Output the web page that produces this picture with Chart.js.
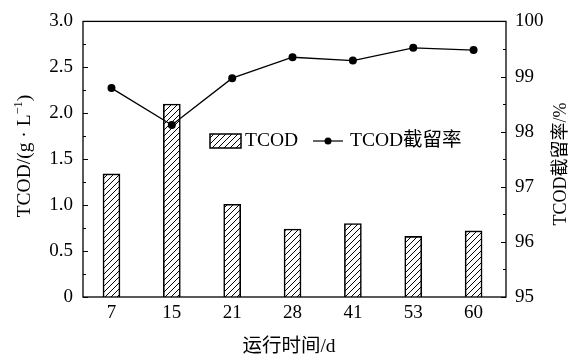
<!DOCTYPE html>
<html>
<head>
<meta charset="utf-8">
<script src="https://cdn.jsdelivr.net/npm/chart.js@4"></script>
<style>
  html, body { margin: 0; padding: 0; background: #fff; }
  #wrap { width: 576px; height: 360px; position: relative; }
</style>
</head>
<body>
<div id="wrap"><canvas id="c"></canvas></div>
<script>
// Operating days and measurements
const days = ['7', '15', '21', '28', '41', '53', '60'];
const tcod = [1.34, 2.10, 1.01, 0.74, 0.80, 0.66, 0.72];          // g/L
const retention = [98.79, 98.12, 98.97, 99.35, 99.29, 99.52, 99.48]; // %

const leftTicks = [0, 0.5, 1.0, 1.5, 2.0, 2.5, 3.0];
const rightTicks = [95, 96, 97, 98, 99, 100];

const SERIF = '"Liberation Serif", "Times New Roman", "Noto Sans CJK SC", serif';

// Diagonal hatch fill for the bars
function makeHatch() {
  const p = document.createElement('canvas');
  p.width = 6; p.height = 6;
  const g = p.getContext('2d');
  g.fillStyle = '#fff';
  g.fillRect(0, 0, 6, 6);
  g.strokeStyle = '#000';
  g.lineWidth = 1;
  g.beginPath();
  g.moveTo(-1, 7); g.lineTo(7, -1);
  g.moveTo(-4, 4); g.lineTo(4, -4);
  g.moveTo(2, 10); g.lineTo(10, 2);
  g.stroke();
  return document.getElementById('c').getContext('2d').createPattern(p, 'repeat');
}
const hatch = makeHatch();

// Frame, inward tick marks, axis titles and legend
const decor = {
  id: 'decor',
  afterDraw(chart) {
    const ctx = chart.ctx;
    const a = chart.chartArea;
    const yL = chart.scales.y, yR = chart.scales.y2;
    ctx.save();
    ctx.strokeStyle = '#000';
    ctx.lineWidth = 1.3;
    ctx.strokeRect(a.left, a.top, a.right - a.left, a.bottom - a.top);

    ctx.lineWidth = 1;
    ctx.beginPath();
    for (let v = 0; v <= 3.0001; v += 0.25) {
      const y = Math.round(yL.getPixelForValue(v)) + 0.5;
      const len = (Math.abs(v / 0.5 - Math.round(v / 0.5)) < 1e-6) ? 5 : 3;
      ctx.moveTo(a.left, y); ctx.lineTo(a.left + len, y);
    }
    for (let v = 95; v <= 100.0001; v += 0.5) {
      const y = Math.round(yR.getPixelForValue(v)) + 0.5;
      const len = (Math.abs(v - Math.round(v)) < 1e-6) ? 5 : 3;
      ctx.moveTo(a.right, y); ctx.lineTo(a.right - len, y);
    }
    ctx.stroke();

    ctx.fillStyle = '#000';
    ctx.textBaseline = 'middle';

    // left axis title, with a raised exponent
    ctx.save();
    ctx.translate(25, 156);
    ctx.rotate(-Math.PI / 2);
    const main = '19.5px ' + SERIF, sup = '12.5px ' + SERIF;
    const p1 = 'TCOD/(g · L', p2 = '−1', p3 = ')';
    ctx.font = main; const w1 = ctx.measureText(p1).width, w3 = ctx.measureText(p3).width;
    ctx.font = sup; const w2 = ctx.measureText(p2).width;
    let x0 = -(w1 + w2 + w3) / 2;
    ctx.textAlign = 'left';
    ctx.font = main; ctx.fillText(p1, x0, 0);
    ctx.font = sup; ctx.fillText(p2, x0 + w1, -6);
    ctx.font = main; ctx.fillText(p3, x0 + w1 + w2, 0);
    ctx.restore();

    ctx.font = '18px ' + SERIF;
    ctx.textAlign = 'center';

    // right axis title
    ctx.save();
    ctx.translate(561, 164);
    ctx.rotate(-Math.PI / 2);
    ctx.fillText('TCOD截留率/%', 0, 0);
    ctx.restore();

    // bottom axis title
    ctx.font = '19.5px ' + SERIF;
    ctx.fillText('运行时间/d', 289, 347);

    // legend
    ctx.font = '19.5px ' + SERIF;
    ctx.fillStyle = hatch;
    ctx.fillRect(210, 134, 31, 14);
    ctx.lineWidth = 1.5;
    ctx.strokeRect(210, 134, 31, 14);
    ctx.fillStyle = '#000';
    ctx.textAlign = 'left';
    ctx.fillText('TCOD', 245, 141);
    ctx.lineWidth = 1.2;
    ctx.beginPath();
    ctx.moveTo(313, 141); ctx.lineTo(343, 141);
    ctx.stroke();
    ctx.beginPath();
    ctx.arc(328, 141, 3.5, 0, Math.PI * 2);
    ctx.fill();
    ctx.fillText('TCOD截留率', 350, 141);
    ctx.restore();
  }
};

new Chart(document.getElementById('c'), {
  data: {
    datasets: [
      {
        type: 'line',
        label: 'TCOD截留率',
        data: retention.map((v, i) => ({ x: i, y: v })),
        xAxisID: 'x',
        yAxisID: 'y2',
        borderColor: '#000',
        borderWidth: 1.3,
        pointRadius: 4,
        pointBackgroundColor: '#000',
        pointBorderColor: '#000',
        pointBorderWidth: 0,
        tension: 0,
        order: 0
      },
      {
        type: 'bar',
        label: 'TCOD',
        data: tcod.map((v, i) => ({ x: i, y: v })),
        xAxisID: 'x',
        yAxisID: 'y',
        backgroundColor: hatch,
        borderColor: '#000',
        borderWidth: 1.6,
        borderSkipped: 'start',
        barThickness: 17,
        order: 1
      }
    ]
  },
  options: {
    responsive: true,
    maintainAspectRatio: false,
    animation: false,
    layout: { padding: { top: 17, left: 0, right: 0, bottom: 0 } },
    plugins: { legend: { display: false }, tooltip: { enabled: false } },
    scales: {
      x: {
        type: 'linear',
        position: 'bottom',
        min: -0.472,
        max: 6.537,
        offset: false,
        grid: { display: false, drawTicks: false },
        border: { display: false },
        afterBuildTicks: s => { s.ticks = days.map((d, i) => ({ value: i })); },
        afterFit: s => { s.height = 63; },
        ticks: {
          padding: 5,
          color: '#000',
          font: { family: SERIF, size: 19 },
          maxRotation: 0,
          autoSkip: false,
          callback: v => days[v]
        }
      },
      y: {
        position: 'left',
        min: 0,
        max: 3.0,
        grid: { display: false, drawTicks: false },
        border: { display: false },
        afterBuildTicks: s => { s.ticks = leftTicks.map(v => ({ value: v })); },
        afterFit: s => { s.width = 83; },
        ticks: {
          padding: 10,
          color: '#000',
          font: { family: SERIF, size: 19 },
          callback: v => (v === 0 ? '0' : Number(v).toFixed(1))
        }
      },
      y2: {
        position: 'right',
        min: 95,
        max: 100,
        grid: { display: false, drawTicks: false },
        border: { display: false },
        afterBuildTicks: s => { s.ticks = rightTicks.map(v => ({ value: v })); },
        afterFit: s => { s.width = 70; },
        ticks: {
          padding: 9,
          color: '#000',
          font: { family: SERIF, size: 19 },
          callback: v => String(v)
        }
      }
    }
  },
  plugins: [decor]
});
</script>
</body>
</html>
